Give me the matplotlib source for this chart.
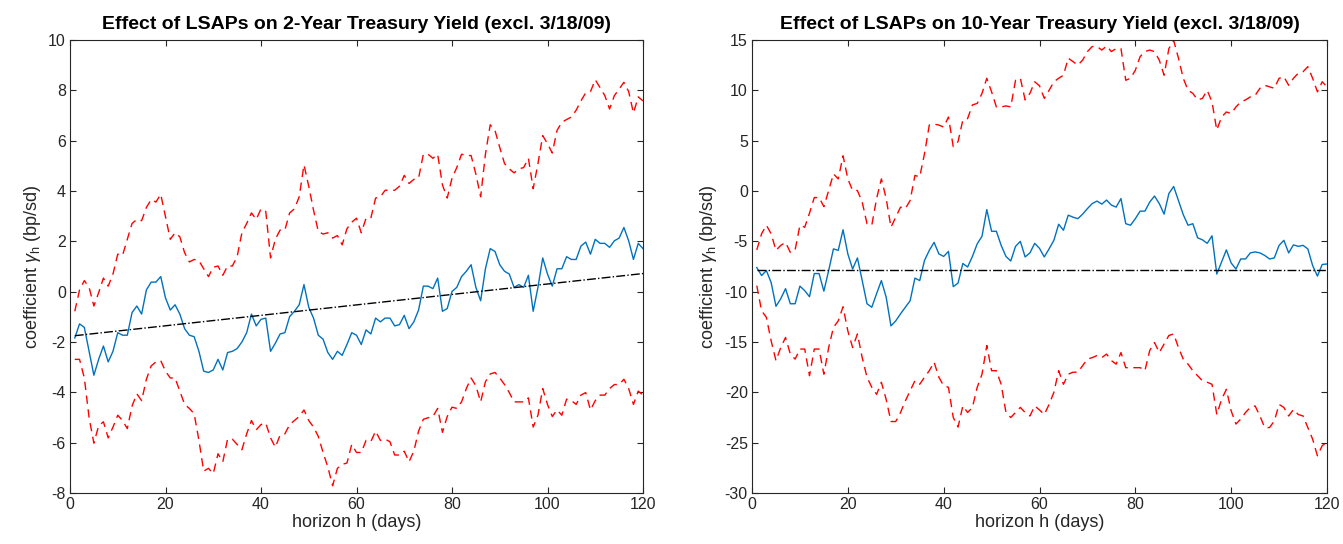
import numpy as np
import matplotlib
matplotlib.use("Agg")
import matplotlib.pyplot as plt

plt.rcParams['font.family'] = ['Liberation Sans', 'DejaVu Sans']
plt.rcParams['mathtext.fontset'] = 'custom'
plt.rcParams['mathtext.it'] = 'Liberation Sans:italic'
plt.rcParams['mathtext.rm'] = 'Liberation Sans'
plt.rcParams['axes.unicode_minus'] = False

h = np.arange(1, 121)

est_2y = [-1.84,-1.28,-1.42,-2.37,-3.32,-2.69,-2.16,-2.79,-2.37,-1.63,
          -1.73,-1.73,-0.83,-0.57,-0.89,0.07,0.38,0.38,0.6,-0.25,
          -0.73,-0.52,-0.89,-1.47,-1.73,-1.79,-2.37,-3.16,-3.21,-3.11,
          -2.69,-3.11,-2.42,-2.37,-2.26,-2.0,-1.63,-0.89,-1.36,-1.1,
          -1.05,-2.37,-2.05,-1.68,-1.63,-0.99,-0.78,-0.52,0.28,-0.62,
          -1.05,-1.73,-1.89,-2.42,-2.69,-2.37,-2.53,-2.1,-1.63,-1.73,
          -2.1,-1.52,-1.68,-1.05,-1.2,-1.05,-1.05,-1.36,-1.31,-0.94,
          -1.47,-1.2,-0.73,0.22,0.22,0.12,0.54,-0.78,-0.67,0.01,
          0.17,0.6,0.81,1.07,0.17,-0.36,0.91,1.71,1.6,1.07,
          0.81,0.7,0.17,0.28,0.17,0.65,-0.78,0.17,1.34,0.7,
          0.22,0.91,0.91,1.39,1.28,1.28,1.81,1.97,1.49,2.08,
          1.92,1.92,1.76,2.02,2.13,2.55,2.02,1.28,1.92,1.71]
up_2y = [-0.78,0.07,0.44,0.17,-0.57,-0.04,0.54,0.22,0.7,1.49,
         1.44,2.08,2.71,2.87,2.82,3.35,3.66,3.56,3.87,2.98,
         2.08,2.34,2.18,1.55,1.18,1.28,1.23,0.91,0.6,0.97,
         1.02,0.65,1.02,1.02,1.39,2.34,2.71,3.13,2.87,3.29,
         3.19,1.34,2.08,2.45,2.45,3.13,3.29,3.77,5.04,4.19,
         3.24,2.39,2.29,2.34,2.13,2.23,1.86,2.5,2.76,2.92,
         2.34,2.92,2.92,3.72,3.77,4.03,4.03,4.03,4.19,4.62,
         4.3,4.46,4.51,5.46,5.46,5.3,5.46,4.24,3.72,4.51,
         4.93,5.46,5.41,5.41,4.67,3.77,5.46,6.63,6.41,5.73,
         5.09,4.88,4.72,4.88,4.93,5.3,4.09,5.09,6.2,5.88,
         5.51,6.41,6.73,6.84,6.94,7.21,7.58,7.9,7.95,8.42,
         8.11,7.79,7.26,7.79,8.05,8.32,7.95,7.1,7.74,7.58]
lo_2y = [-2.69,-2.69,-3.43,-5.01,-6.02,-5.33,-5.17,-5.81,-5.38,-4.91,
         -5.12,-5.44,-4.54,-4.06,-4.33,-3.48,-2.95,-2.79,-2.74,-3.16,
         -3.43,-3.43,-3.95,-4.48,-4.64,-4.85,-5.91,-7.13,-7.02,-7.23,
         -6.44,-6.76,-5.86,-5.86,-6.07,-6.28,-5.65,-5.12,-5.49,-5.28,
         -5.22,-5.81,-6.18,-5.7,-5.65,-5.28,-5.12,-4.96,-4.7,-5.12,
         -5.38,-5.75,-6.39,-6.97,-7.71,-7.02,-6.86,-6.81,-6.07,-6.39,
         -6.39,-5.91,-5.96,-5.54,-5.91,-5.86,-5.96,-6.49,-6.49,-6.34,
         -6.76,-6.34,-5.54,-5.07,-5.01,-4.96,-4.64,-5.59,-4.96,-4.59,
         -4.64,-4.38,-3.85,-3.43,-3.74,-4.38,-3.58,-3.27,-3.21,-3.43,
         -3.69,-4.01,-4.38,-4.38,-4.38,-4.22,-5.38,-4.91,-3.85,-4.48,
         -4.96,-4.7,-4.91,-4.27,-4.33,-4.48,-4.11,-4.01,-4.7,-4.33,
         -4.11,-4.11,-3.85,-3.69,-3.69,-3.48,-3.85,-4.48,-3.95,-4.11]
trend_2y_ends = [-1.75, 0.72]

est_10y = [-7.6,-8.4,-7.9,-9.1,-11.45,-10.7,-9.7,-11.2,-11.2,-9.45,
           -9.9,-10.5,-8.2,-8.2,-9.95,-7.9,-5.75,-5.9,-3.85,-6.25,
           -7.75,-6.65,-8.9,-11.2,-11.55,-10.2,-8.9,-10.55,-13.4,-12.9,
           -12.2,-11.55,-10.9,-8.65,-8.9,-6.9,-5.9,-5.1,-6.25,-6.5,
           -6.0,-9.5,-9.15,-7.2,-7.55,-6.5,-5.25,-4.5,-1.85,-4.0,
           -4.0,-5.4,-6.5,-6.95,-5.5,-5.0,-6.55,-6.15,-5.2,-5.7,
           -6.55,-5.75,-4.9,-3.3,-3.9,-2.4,-2.6,-2.75,-2.3,-1.75,
           -1.25,-1.0,-1.3,-0.9,-1.4,-1.6,-0.75,-3.25,-3.4,-2.75,
           -2.0,-2.0,-1.1,-0.5,-1.25,-2.3,-0.25,0.45,-0.95,-2.35,
           -3.4,-3.25,-4.65,-4.85,-5.2,-4.45,-8.25,-7.05,-5.85,-7.15,
           -7.75,-6.75,-6.75,-6.15,-6.05,-6.15,-6.4,-6.75,-6.65,-5.4,
           -4.9,-6.15,-5.35,-5.5,-5.4,-5.75,-7.4,-8.45,-7.3,-7.25]
up_10y = [-5.85,-4.25,-3.4,-4.25,-5.9,-5.4,-5.1,-6.1,-5.85,-3.4,
          -3.6,-2.2,-0.65,-0.65,-1.55,0.05,1.7,1.2,3.5,1.2,
          0.05,0.05,-1.1,-3.25,-3.4,-0.75,1.2,-0.75,-3.6,-2.6,
          -1.6,-1.75,-0.95,1.55,1.4,3.7,6.55,6.65,6.55,6.35,
          7.35,4.4,4.9,7.05,7.2,8.55,8.7,9.7,11.2,9.85,
          8.35,8.35,8.45,8.35,11.0,11.2,9.05,9.7,10.85,10.45,
          9.2,10.0,10.85,11.2,11.5,13.2,12.85,12.5,13.0,13.85,
          14.35,14.35,14.0,14.4,13.85,14.15,14.15,11.0,11.2,12.0,
          13.35,13.85,14.0,13.85,13.0,11.5,14.15,14.95,13.2,11.2,
          10.0,9.7,9.05,9.2,10.0,8.85,6.05,7.35,7.85,7.7,
          8.35,8.85,9.05,9.35,9.5,10.2,10.5,10.35,10.2,11.2,
          11.35,10.5,11.2,11.7,11.85,12.35,11.2,9.85,10.85,10.35]
lo_10y = [-9.4,-11.9,-12.55,-14.9,-16.85,-15.55,-14.55,-16.2,-16.7,-15.7,
          -15.7,-18.35,-15.7,-15.7,-18.2,-15.55,-13.55,-12.9,-11.5,-13.9,
          -15.55,-14.2,-16.55,-18.5,-19.5,-20.2,-19.0,-20.7,-22.9,-22.9,
          -22.0,-20.85,-19.85,-18.85,-19.2,-18.5,-17.85,-17.0,-18.5,-19.35,
          -19.5,-22.5,-23.45,-21.35,-22.0,-21.5,-19.5,-18.2,-15.35,-17.85,
          -17.85,-19.2,-22.0,-22.5,-22.0,-21.5,-22.0,-22.35,-21.35,-21.75,
          -22.2,-21.2,-20.0,-17.85,-19.2,-18.2,-18.0,-18.0,-17.35,-16.7,
          -16.55,-16.35,-16.55,-16.2,-16.85,-17.2,-16.05,-17.55,-17.55,-17.55,
          -17.55,-17.85,-15.85,-15.05,-16.05,-15.2,-14.35,-14.2,-15.55,-16.7,
          -17.2,-17.85,-18.35,-18.85,-19.0,-19.2,-22.2,-20.7,-19.7,-21.85,
          -23.15,-22.65,-22.0,-21.5,-21.35,-22.35,-23.5,-23.5,-22.85,-21.2,
          -21.5,-22.35,-21.7,-22.2,-22.35,-23.5,-24.65,-26.3,-25.3,-24.95]
trend_10y_ends = [-7.8, -7.8]

fig = plt.figure(figsize=(13.43, 5.44), dpi=100)
axL = fig.add_axes([70/1343, 51/544, 573/1343, 453/544])
axR = fig.add_axes([752/1343, 51/544, 575/1343, 453/544])

def draw(ax, est, up, lo, trend, yt, ylim, title):
    ax.plot(h, up, color='red', ls=(0, (6, 4)), lw=1)
    ax.plot(h, lo, color='red', ls=(0, (6, 4)), lw=1)
    ax.plot(h, est, color='#0072BD', lw=1)
    ax.plot([h[0], h[-1]], trend, color='black', ls='-.', lw=1)
    ax.set_xlim(0, 120)
    ax.set_ylim(*ylim)
    ax.set_xticks(range(0, 121, 20))
    ax.set_yticks(yt)
    ax.tick_params(direction='in', top=True, right=True, labelsize=11.5, length=4,
                   color='#262626', labelcolor='#262626', pad=3)
    for s in ax.spines.values():
        s.set_color('#262626'); s.set_linewidth(0.8)
    ax.set_title(title, fontsize=14, fontweight='bold', pad=8)
    ax.set_xlabel('horizon h (days)', fontsize=13, labelpad=1, color='#262626')
    ax.set_ylabel(r'coefficient $\gamma_{\mathrm{h}}$ (bp/sd)', fontsize=13, labelpad=4, color='#262626')

draw(axL, est_2y, up_2y, lo_2y, trend_2y_ends, range(-8, 11, 2), (-8, 10),
     'Effect of LSAPs on 2-Year Treasury Yield (excl. 3/18/09)')
draw(axR, est_10y, up_10y, lo_10y, trend_10y_ends, range(-30, 16, 5), (-30, 15),
     'Effect of LSAPs on 10-Year Treasury Yield (excl. 3/18/09)')

fig.savefig('out.png', dpi=100)
